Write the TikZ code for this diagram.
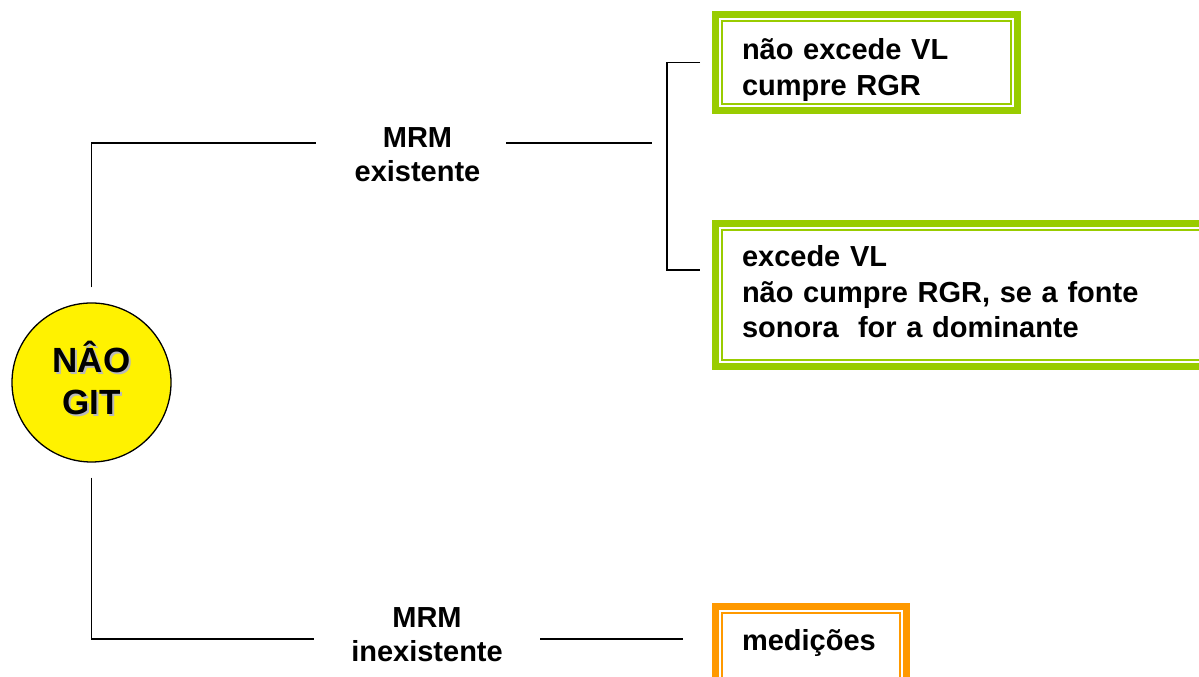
\documentclass[tikz,border=0pt]{standalone}
\usepackage{fontspec}
\setmainfont{Liberation Sans}
\usetikzlibrary{positioning}
\definecolor{limegreen}{HTML}{99CC00}
\definecolor{boxorange}{HTML}{FF9900}
\newcommand{\shtext}[1]{\makebox[0pt][l]{\hspace{2pt}\raisebox{-2pt}{\color{gray!55}#1}}#1}

\begin{document}
\begin{tikzpicture}[
    x=1pt, y=1pt,
    line width=1.3pt,
    rootnode/.style={circle, draw, fill=yellow, minimum size=159pt, inner sep=0pt,
        align=center, font=\fontsize{35}{42}\selectfont\bfseries,
        text height=72pt, text depth=7pt},
    branch/.style={inner sep=0pt, align=center, font=\fontsize{29}{34}\selectfont\bfseries},
    framebox/.style={draw=#1, line width=6.7pt, anchor=north west, align=left,
        inner xsep=26.65pt, inner ysep=0pt, font=\fontsize{29}{35.5}\selectfont\bfseries,
        path picture={\draw[#1, line width=2pt]
            ([shift={(6.85pt,-6.85pt)}]path picture bounding box.north west) rectangle
            ([shift={(-6.85pt,6.85pt)}]path picture bounding box.south east);}}
]
\useasboundingbox (0,0) rectangle (1199,677);
\clip (0,0) rectangle (1199,677);

% Root
\node[rootnode] (root) at (91.5,294.5) {\shtext{NÂO}\\\shtext{GIT}};

% Branch labels
\node[branch, text height=80pt, text depth=2pt] (mrm1) at (417.5,534) {MRM\\existente};
\node[branch, text height=60pt, text depth=14pt] (mrm2) at (427,38) {MRM\\inexistente};

% Result boxes
\node[framebox=limegreen, text width=249pt, text height=45.65pt, text depth=50.65pt]
    (b1) at (712,666) {não excede VL\\cumpre RGR};
\node[framebox=limegreen, text width=488pt, text height=43.65pt, text depth=99.65pt]
    (b2) at (712,457) {excede VL\\não cumpre RGR, se a fonte\\sonora\ \ for a dominante};
\node[framebox=boxorange, text width=138pt, text height=44.65pt, text depth=45.65pt]
    (b3) at (712,74) {medições};

% Connectors
\draw[shorten >=38pt] ([yshift=15pt]root.north) |- (mrm1.west);
\draw[shorten <=25pt, shorten >=60pt] (mrm1.east) -- (mrm1.east -| b1.west);
\draw[shorten >=37pt] ([yshift=-15pt]root.south) |- (mrm2.west);
\draw[shorten <=37pt, shorten >=29pt] (mrm2.east) -- (mrm2.east -| b3.west);

% Bracket
\draw ([xshift=-12pt]b1.west) -| ([xshift=-45pt,yshift=25pt]b2.west)
    -- ([xshift=-12pt,yshift=25pt]b2.west);

\end{tikzpicture}
\end{document}
